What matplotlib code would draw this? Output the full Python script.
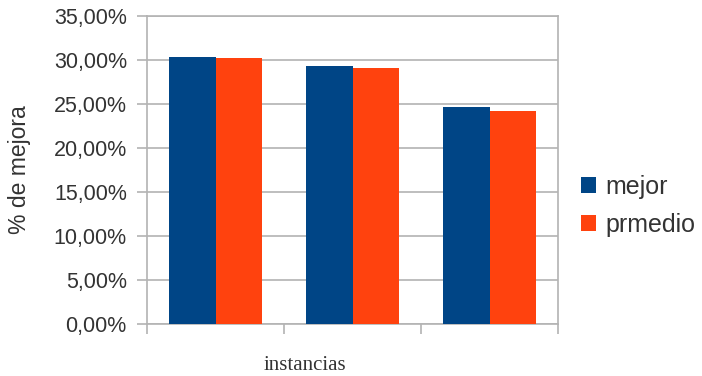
import matplotlib.pyplot as plt
from matplotlib.ticker import FuncFormatter, FixedLocator
import numpy as np

plt.rcParams['font.family'] = ['Liberation Sans', 'DejaVu Sans']

instancias = ['1', '2', '3']
mejor = [30.3, 29.3, 24.7]
prmedio = [30.2, 29.05, 24.15]
series_names = ['mejor', 'prmedio']
colores = ['#004586', '#ff420e']
gris = '#b3b3b3'
texto = '#333333'

fig = plt.figure(figsize=(7.02, 3.76), dpi=100)
ax = fig.add_axes([147/702, 1-324/376, (558-147)/702, (324-16)/376])

x = np.arange(len(instancias))
w = 0.336
ax.bar(x - w/2, mejor, w, color=colores[0], label=series_names[0], zorder=3)
ax.bar(x + w/2, prmedio, w, color=colores[1], label=series_names[1], zorder=3)

ax.set_xlim(-0.5, len(instancias) - 0.5)
ax.set_ylim(0, 35)
ax.set_yticks(np.arange(0, 36, 5))
ax.yaxis.set_major_formatter(FuncFormatter(lambda v, p: ('%.2f%%' % v).replace('.', ',')))
ax.set_xticks([])
ax.xaxis.set_minor_locator(FixedLocator(np.arange(-0.5, len(instancias), 1)))
ax.tick_params(axis='x', which='minor', length=7.5, color=gris, width=1.2)
ax.tick_params(axis='y', length=7.5, color=gris, width=1.2, pad=7, labelsize=15.5, labelcolor=texto)

ax.grid(axis='y', color=gris, linewidth=1.2, zorder=0)
for s in ax.spines.values():
    s.set_color(gris)
    s.set_linewidth(1.2)

fig.text(20/702, 1-170/376, '% de mejora', fontsize=16.5, color=texto, rotation=90,
         ha='center', va='center')
fig.text(305/702, 1-365/376, 'instancias', fontsize=15, color=texto,
         family=['Liberation Serif', 'DejaVu Serif'], ha='center', va='center')

fig.legend(loc='center left', bbox_to_anchor=(581/702, 1-206/376), frameon=False,
           fontsize=18, handlelength=0.6, handleheight=0.62, handletextpad=0.36,
           labelspacing=0.55, borderpad=0, borderaxespad=0, labelcolor=texto)

fig.savefig('out.png', dpi=100)
